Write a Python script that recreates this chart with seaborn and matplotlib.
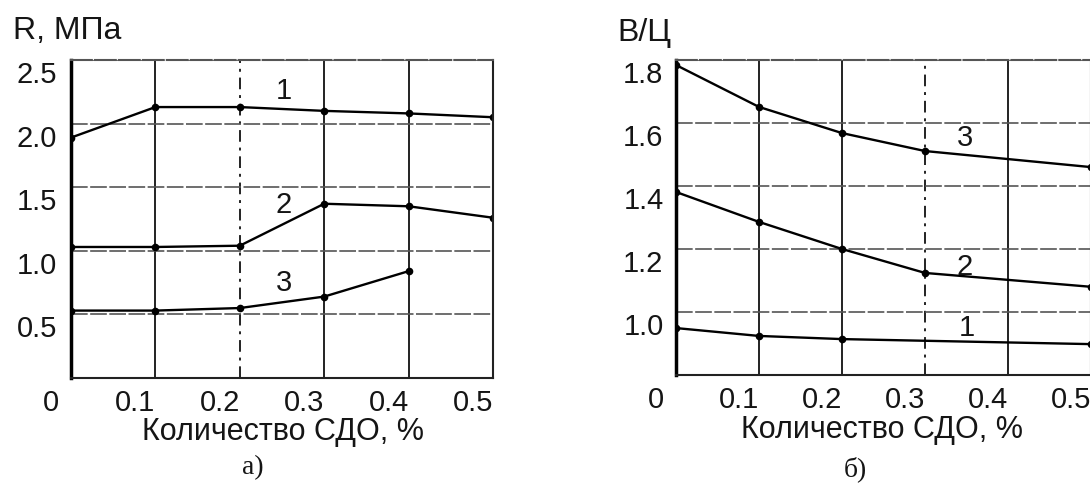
import pandas as pd
import matplotlib
matplotlib.use("Agg")
import matplotlib.pyplot as plt
import matplotlib.transforms as mtransforms
import seaborn as sns

# panel a) - strength R, MPa
x_a = [0.0, 0.1, 0.2, 0.3, 0.4, 0.5]
r_curve1 = [1.89, 2.13, 2.13, 2.10, 2.08, 2.05]
r_curve2 = [1.03, 1.03, 1.04, 1.37, 1.35, 1.26]
x_a3 = [0.0, 0.1, 0.2, 0.3, 0.4]
r_curve3 = [0.53, 0.53, 0.55, 0.64, 0.84]

# panel б) - water/cement ratio
x_b = [0.0, 0.1, 0.2, 0.3, 0.5]
x_b1 = [0.0, 0.1, 0.2, 0.5]
wc_curve1 = [0.949, 0.924, 0.914, 0.898]
wc_curve2 = [1.381, 1.286, 1.20, 1.124, 1.08]
wc_curve3 = [1.784, 1.651, 1.568, 1.511, 1.46]

xticks = [0.0, 0.1, 0.2, 0.3, 0.4, 0.5]
xtick_labels = ["0", "0.1", "0.2", "0.3", "0.4", "0.5"]
yticks_a = [0.5, 1.0, 1.5, 2.0, 2.5]
yticks_b = [1.0, 1.2, 1.4, 1.6, 1.8]

df_a = pd.concat([
    pd.DataFrame({"x": x_a, "y": r_curve1, "curve": "1"}),
    pd.DataFrame({"x": x_a, "y": r_curve2, "curve": "2"}),
    pd.DataFrame({"x": x_a3, "y": r_curve3, "curve": "3"}),
])
df_b = pd.concat([
    pd.DataFrame({"x": x_b1, "y": wc_curve1, "curve": "1"}),
    pd.DataFrame({"x": x_b, "y": wc_curve2, "curve": "2"}),
    pd.DataFrame({"x": x_b, "y": wc_curve3, "curve": "3"}),
])

sns.set_theme(style="white")
plt.rcParams["font.family"] = ["Liberation Sans", "DejaVu Sans"]

W, H = 1090, 483
fig = plt.figure(figsize=(W / 100, H / 100), dpi=100)
ax_a = fig.add_axes([71 / W, 1 - 378 / H, 422 / W, 318 / H])
ax_b = fig.add_axes([676 / W, 1 - 375 / H, 415 / W, 315 / H])

FS = 21
TXT = "#151515"


def style_axes(ax, df, yticks, ylim, dashdot_idx, ypad):
    sns.lineplot(data=df, x="x", y="y", hue="curve", palette=["black"] * 3,
                 marker="o", markersize=5.5, markeredgewidth=0, linewidth=1.7,
                 legend=False, ax=ax, sort=False, estimator=None)
    ax.set_xlim(0, 0.5)
    ax.set_ylim(*ylim)
    ax.set_xticks(xticks)
    ax.set_xticklabels(xtick_labels)
    ax.set_yticks(yticks)
    ax.set_yticklabels([f"{v:.1f}" for v in yticks])
    ax.set_xlabel("")
    ax.set_ylabel("")
    ax.tick_params(axis="both", length=0, labelsize=FS, colors=TXT)
    ax.tick_params(axis="x", pad=8)
    ax.tick_params(axis="y", pad=ypad)
    # vertical grid solid, horizontal lighter and broken
    ax.grid(True, axis="x", color="#222222", linewidth=1.4, linestyle="-")
    ax.grid(True, axis="y", color="#555555", linewidth=1.2, linestyle=(0, (10, 1.5)))
    ax.xaxis.get_gridlines()[dashdot_idx].set_linestyle((0, (6, 3, 1.5, 3)))
    for name, sp in ax.spines.items():
        sp.set_visible(True)
        sp.set_color("#222222")
        sp.set_linewidth(1.5)
    ax.spines["left"].set_linewidth(2.5)
    ax.spines["left"].set_color("black")
    ax.spines["top"].set_color("#555555")
    ax.spines["top"].set_linestyle((0, (10, 1.5)))
    # tick labels sit off the grid lines in the scan
    off_x = mtransforms.ScaledTranslation(-20 / 100, 0, fig.dpi_scale_trans)
    for lab in ax.get_xticklabels():
        lab.set_transform(lab.get_transform() + off_x)
    off_y = mtransforms.ScaledTranslation(0, -12 / 100, fig.dpi_scale_trans)
    for lab in ax.get_yticklabels():
        lab.set_transform(lab.get_transform() + off_y)


style_axes(ax_a, df_a, yticks_a, (0, 2.5), 2, 10)
style_axes(ax_b, df_b, yticks_b, (0.8, 1.8), 3, 9)

# curve numbers
ax_a.text(0.252, 2.26, "1", fontsize=FS, ha="center", va="center", color=TXT)
ax_a.text(0.252, 1.36, "2", fontsize=FS, ha="center", va="center", color=TXT)
ax_a.text(0.252, 0.75, "3", fontsize=FS, ha="center", va="center", color=TXT)
ax_b.text(0.348, 1.552, "3", fontsize=FS, ha="center", va="center", color=TXT)
ax_b.text(0.348, 1.143, "2", fontsize=FS, ha="center", va="center", color=TXT)
ax_b.text(0.350, 0.949, "1", fontsize=FS, ha="center", va="center", color=TXT)

# axis titles
fig.text(13 / W, 1 - 31 / H, "R, МПа", fontsize=23, ha="left", va="center", color=TXT)
fig.text(617 / W, 1 - 33 / H, "В/Ц", fontsize=23, ha="left", va="center", color=TXT)

fig.text(283 / W, 1 - 432 / H, "Количество СДО, %", fontsize=22,
         ha="center", va="center", color=TXT)
fig.text(882 / W, 1 - 430 / H, "Количество СДО, %", fontsize=22,
         ha="center", va="center", color=TXT)

fig.text(253 / W, 1 - 468 / H, "а)", fontsize=20, ha="center", va="center",
         color=TXT, family=["Liberation Serif", "DejaVu Serif"])
fig.text(855 / W, 1 - 469 / H, "б)", fontsize=20, ha="center", va="center",
         color=TXT, family=["Liberation Serif", "DejaVu Serif"])

fig.savefig("out.png", dpi=100, facecolor="white")
